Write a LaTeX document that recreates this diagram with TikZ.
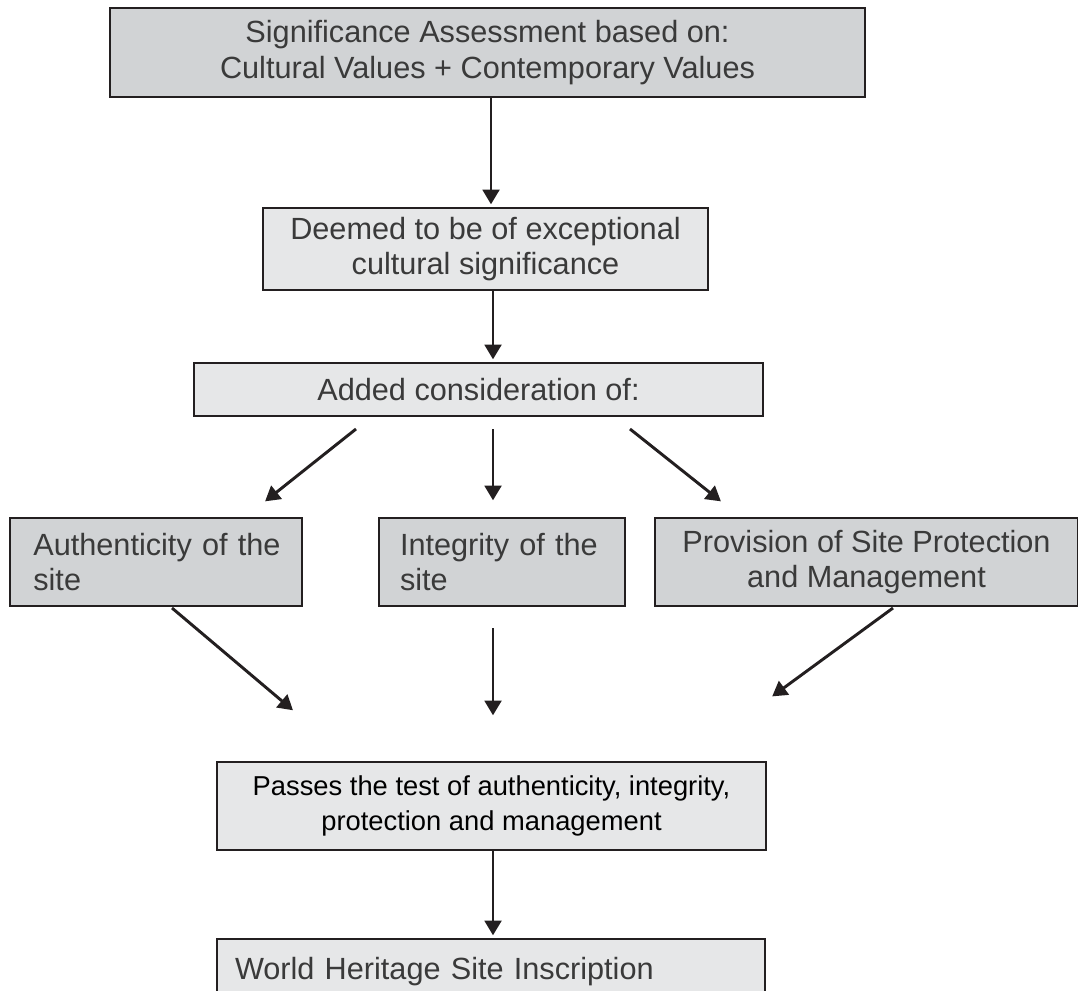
\documentclass[tikz,border=0pt]{standalone}
\usepackage{fontspec}
\setmainfont{Liberation Sans}
\usetikzlibrary{arrows.meta}
\definecolor{ink}{HTML}{231F20}
\definecolor{txt}{HTML}{3A3A3A}
\definecolor{darkfill}{HTML}{D1D3D5}
\definecolor{lightfill}{HTML}{E6E7E8}
% one drawing unit = one pixel of the 1078 x 991 page (0.75pt)
\begin{document}
\begin{tikzpicture}[x=0.75pt,y=-0.75pt,
  box/.style={draw=ink,line width=1.5pt,inner sep=0pt,text=txt,
    font=\fontsize{23}{26.5}\selectfont},
  dark/.style={box,fill=darkfill},
  light/.style={box,fill=lightfill},
  flow/.style={draw=ink,line width=2.2pt,shorten >=2pt,
    -{Triangle[width=12.5pt,length=11pt]}}]
\useasboundingbox (0,0) rectangle (1078,991);
% boxes: centre in px, sizes in pt (px x 0.75)
\node[dark,minimum width=566pt,minimum height=66.75pt,align=center] (sig) at (487.5,52.5)
  {Significance Assessment based on:\\Cultural Values + Contemporary Values};
\node[light,minimum width=333.75pt,minimum height=61.5pt,align=center] (deem) at (485.5,249)
  {Deemed to be of exceptional\\cultural significance};
\node[light,minimum width=426.75pt,minimum height=39.75pt,align=center] (added) at (478.5,389.5)
  {Added consideration of:};
\node[dark,minimum width=219pt,minimum height=66pt,text width=184pt,align=left] (auth) at (156,562)
  {Authenticity~of~the\\site};
\node[dark,minimum width=184.5pt,minimum height=66pt,text width=153pt,align=left] (integ) at (502,562)
  {Integrity of the\\site};
\node[dark,minimum width=317.25pt,minimum height=66pt,align=center] (prov) at (866.5,562)
  {Provision of Site Protection\\and Management};
\node[light,minimum width=411.75pt,minimum height=66pt,align=center,text=black,
  font=\fontsize{20.5}{26.5}\selectfont] (pass) at (491.5,806)
  {Passes the test of authenticity, integrity,\\protection and management};
\node[light,minimum width=411pt,minimum height=49.5pt,text width=384pt,align=left] (whs) at (491,972)
  {World Heritage Site Inscription};
% free arrow ends
\coordinate (a1s) at (356,429); \coordinate (a1e) at (263,503);
\coordinate (a2s) at (493,429); \coordinate (a2e) at (493,503);
\coordinate (a3s) at (630,429); \coordinate (a3e) at (723,503);
\coordinate (b1s) at (172,608); \coordinate (b1e) at (295,712);
\coordinate (b2s) at (493,628); \coordinate (b2e) at (493,718);
\coordinate (b3s) at (893,608); \coordinate (b3e) at (770,698);
% connectors
\draw[flow] (sig.south -| 491,0) -- (deem.north -| 491,0);
\draw[flow] (deem.south -| 493,0) -- (added.north -| 493,0);
\draw[flow] (a1s) -- (a1e);
\draw[flow] (a2s) -- (a2e);
\draw[flow] (a3s) -- (a3e);
\draw[flow] (b1s) -- (b1e);
\draw[flow] (b2s) -- (b2e);
\draw[flow] (b3s) -- (b3e);
\draw[flow] (pass.south -| 493,0) -- (whs.north -| 493,0);
\end{tikzpicture}
\end{document}
